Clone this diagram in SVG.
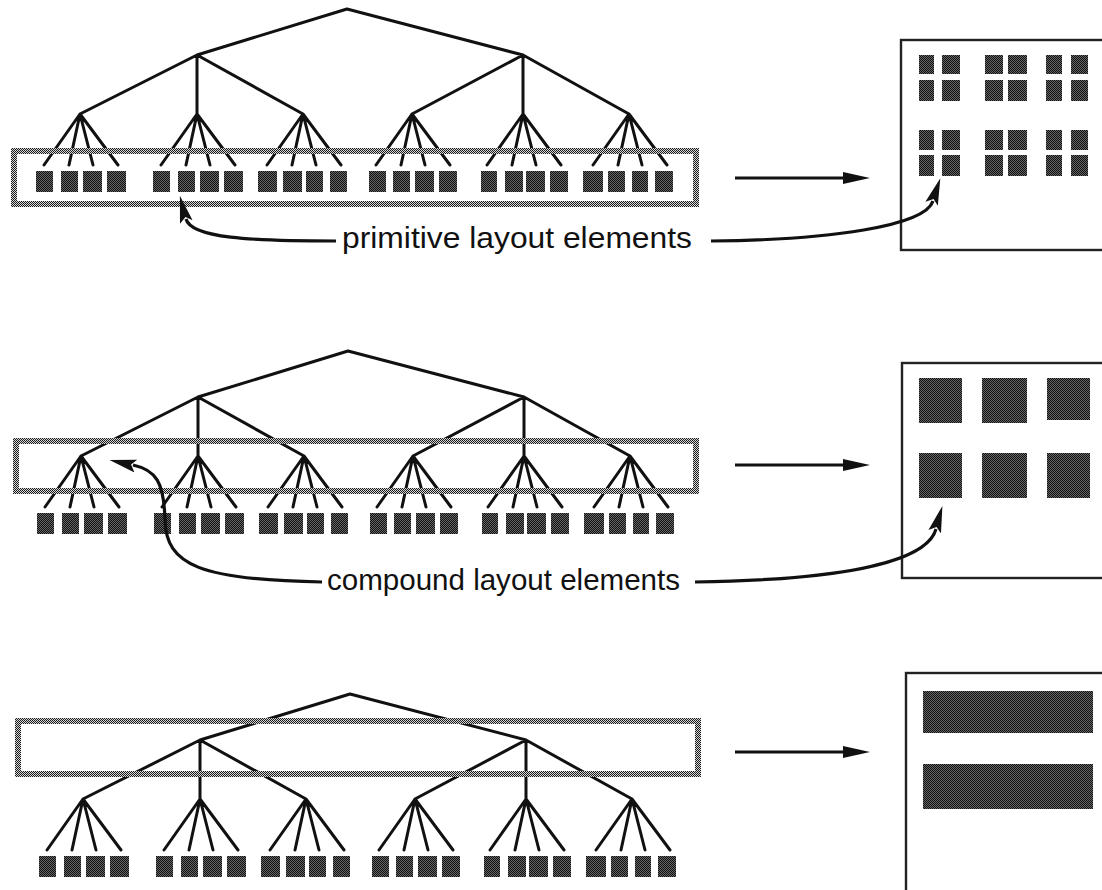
<svg xmlns="http://www.w3.org/2000/svg" xmlns:xlink="http://www.w3.org/1999/xlink" width="1102" height="890" viewBox="0 0 1102 890">
  <style>
    .edge { fill: none; stroke: #111; stroke-width: 3; stroke-linecap: round; }
    .band { fill: none; stroke: url(#chk); stroke-width: 6; }
    .leaf { fill: url(#dots); }
    .frame { fill: #fff; stroke: #222; stroke-width: 2.4; }
    .ptr { fill: none; stroke: #111; stroke-width: 3.2; }
    .label { font-family: "Liberation Sans", Arial, Helvetica, sans-serif; font-size: 29px; fill: #111; }
  </style>
  <defs>
    <!-- dark dithered fill for layout elements -->
    <pattern id="dots" width="2" height="2" patternUnits="userSpaceOnUse">
      <rect width="2" height="2" fill="#111"/>
      <rect x="1" y="0" width="1" height="1" fill="#666"/>
      <rect x="0" y="1" width="1" height="1" fill="#666"/>
    </pattern>
    <!-- checker used for the selection bands -->
    <pattern id="chk" width="2" height="2" patternUnits="userSpaceOnUse">
      <rect width="2" height="2" fill="#d8d8d8"/>
      <rect width="1" height="1" fill="#1a1a1a"/>
      <rect x="1" y="1" width="1" height="1" fill="#1a1a1a"/>
    </pattern>
    <marker id="head" markerUnits="userSpaceOnUse" markerWidth="30" markerHeight="14" viewBox="0 -7 30 14" refX="2" refY="0" orient="auto">
      <path d="M0,-6 L27,0 L0,6 z" fill="#111"/>
    </marker>
    <marker id="barb" markerUnits="userSpaceOnUse" markerWidth="32" markerHeight="18" viewBox="0 -9 32 18" refX="3" refY="0" orient="auto">
      <path d="M0,-7 L27,0 L0,6 L5,0 z" fill="#111"/>
    </marker>

    <!-- three-level hierarchy: root, two subtrees, six groups of four leaves -->
    <g id="tree">
      <path class="edge" d="M347,9 L197,55 M347,9 L523,55
        M197,55 L80,114 M197,55 L197,114 M197,55 L303,114
        M523,55 L412,114 M523,55 L523,114 M523,55 L629,114
        M80,114 L44,165 M80,114 L69,165 M80,114 L93,165 M80,114 L118,165
        M197,114 L161,165 M197,114 L186,165 M197,114 L210,165 M197,114 L235,165
        M303,114 L267,165 M303,114 L292,165 M303,114 L316,165 M303,114 L341,165
        M412,114 L376,165 M412,114 L401,165 M412,114 L425,165 M412,114 L450,165
        M523,114 L487,165 M523,114 L512,165 M523,114 L536,165 M523,114 L561,165
        M629,114 L593,165 M629,114 L618,165 M629,114 L642,165 M629,114 L667,165"/>
      <g class="leaf">
        <rect x="36" y="171" width="17" height="21"/><rect x="61" y="171" width="17" height="21"/>
        <rect x="83" y="171" width="19" height="21"/><rect x="107" y="171" width="19" height="21"/>
        <rect x="153" y="171" width="17" height="21"/><rect x="178" y="171" width="17" height="21"/>
        <rect x="200" y="171" width="19" height="21"/><rect x="224" y="171" width="19" height="21"/>
        <rect x="258" y="171" width="19" height="21"/><rect x="283" y="171" width="19" height="21"/>
        <rect x="306" y="171" width="17" height="21"/><rect x="330" y="171" width="17" height="21"/>
        <rect x="369" y="171" width="17" height="21"/><rect x="393" y="171" width="17" height="21"/>
        <rect x="415" y="171" width="19" height="21"/><rect x="439" y="171" width="18" height="21"/>
        <rect x="481" y="171" width="16" height="21"/><rect x="505" y="171" width="18" height="21"/>
        <rect x="526" y="171" width="19" height="21"/><rect x="550" y="171" width="18" height="21"/>
        <rect x="583" y="171" width="20" height="21"/><rect x="608" y="171" width="17" height="21"/>
        <rect x="632" y="171" width="16" height="21"/><rect x="655" y="171" width="18" height="21"/>
      </g>
    </g>
  </defs>

  <!-- panel 1: primitive elements selected -->
  <g id="panel-primitive">
    <use xlink:href="#tree" href="#tree"/>
    <rect class="band" x="14" y="151" width="682" height="53"/>
    <g id="layout-primitive">
      <rect class="frame" x="901" y="40" width="215" height="210"/>
      <g class="leaf">
        <rect x="919" y="55" width="15" height="19"/><rect x="942" y="55" width="18" height="19"/>
        <rect x="919" y="80" width="15" height="21"/><rect x="942" y="80" width="18" height="21"/>
        <rect x="985" y="55" width="18" height="19"/><rect x="1008" y="55" width="19" height="19"/>
        <rect x="985" y="80" width="18" height="21"/><rect x="1008" y="80" width="19" height="21"/>
        <rect x="1046" y="55" width="16" height="19"/><rect x="1071" y="55" width="17" height="19"/>
        <rect x="1046" y="80" width="16" height="21"/><rect x="1071" y="80" width="17" height="21"/>
        <rect x="919" y="130" width="15" height="20"/><rect x="942" y="130" width="18" height="20"/>
        <rect x="919" y="155" width="15" height="21"/><rect x="942" y="155" width="18" height="21"/>
        <rect x="985" y="130" width="18" height="20"/><rect x="1008" y="130" width="19" height="20"/>
        <rect x="985" y="155" width="18" height="21"/><rect x="1008" y="155" width="19" height="21"/>
        <rect x="1046" y="130" width="16" height="20"/><rect x="1071" y="130" width="17" height="20"/>
        <rect x="1046" y="155" width="16" height="21"/><rect x="1071" y="155" width="17" height="21"/>
      </g>
    </g>
    <text class="label" x="342" y="248" textLength="350" lengthAdjust="spacingAndGlyphs">primitive layout elements</text>
  </g>

  <!-- panel 2: compound elements selected -->
  <g id="panel-compound">
    <use xlink:href="#tree" href="#tree" transform="translate(1,342)"/>
    <rect class="band" x="16" y="441" width="680" height="50"/>
    <g id="layout-compound">
      <rect class="frame" x="902" y="363" width="215" height="215"/>
      <g class="leaf">
        <rect x="919" y="378" width="43" height="45"/><rect x="982" y="378" width="45" height="45"/>
        <rect x="1047" y="378" width="43" height="42"/>
        <rect x="919" y="453" width="43" height="45"/><rect x="982" y="453" width="45" height="45"/>
        <rect x="1047" y="453" width="43" height="45"/>
      </g>
    </g>
    <text class="label" x="327" y="590" textLength="353" lengthAdjust="spacingAndGlyphs">compound layout elements</text>
  </g>

  <!-- panel 3: the two subtrees selected -->
  <g id="panel-subtree">
    <use xlink:href="#tree" href="#tree" transform="translate(3,685)"/>
    <rect class="band" x="18" y="721" width="680" height="53"/>
    <g id="layout-subtree">
      <rect class="frame" x="906" y="673" width="215" height="230"/>
      <g class="leaf">
        <rect x="923" y="691" width="170" height="42"/>
        <rect x="923" y="764" width="170" height="45"/>
      </g>
    </g>
  </g>

  <!-- connectors -->
  <g id="connectors">
    <path class="ptr" d="M735,178 L845,178" marker-end="url(#head)"/>
    <path class="ptr" d="M735,465 L845,465" marker-end="url(#head)"/>
    <path class="ptr" d="M735,752 L845,752" marker-end="url(#head)"/>

    <path class="ptr" d="M336,241 C250,241 191,238 186,219" marker-end="url(#barb)"/>
    <path class="ptr" d="M711,241 C830,240 925,226 933,201" marker-end="url(#barb)"/>

    <path class="ptr" d="M322,582 C200,580 166,565 165,520 C164,482 156,470 133,465" marker-end="url(#barb)"/>
    <path class="ptr" d="M695,582 C830,580 926,565 936,529" marker-end="url(#barb)"/>
  </g>
</svg>
